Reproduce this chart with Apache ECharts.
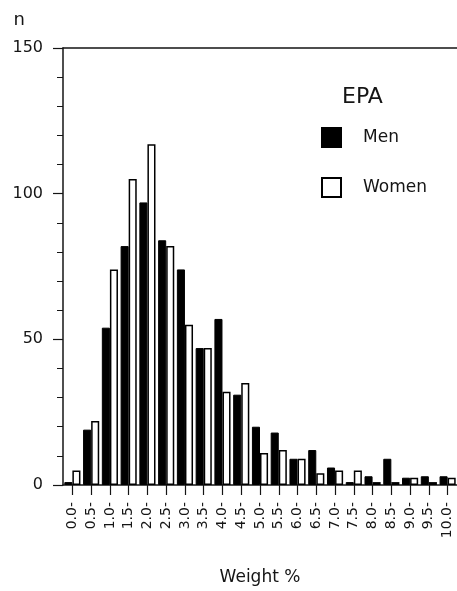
<!DOCTYPE html>
<html>
<head>
<meta charset="utf-8">
<script src="https://cdn.jsdelivr.net/npm/echarts@6/dist/echarts.min.js"></script>
<style>
html,body{margin:0;padding:0;background:#fff;}
#chart{width:457px;height:591px;}
</style>
</head>
<body>
<div id="chart"></div>
<script>
const categories = ['0.0-','0.5-','1.0-','1.5-','2.0-','2.5-','3.0-','3.5-','4.0-','4.5-','5.0-','5.5-','6.0-','6.5-','7.0-','7.5-','8.0-','8.5-','9.0-','9.5-','10.0-'];
const men   = [1, 19, 54, 82, 97, 84, 74, 47, 57, 31, 20, 18, 9, 12, 6, 1, 3, 9, 2.5, 3, 3];
const women = [5, 22, 74, 105, 117, 82, 55, 47, 32, 35, 11, 12, 9, 4, 5, 5, 1, 1, 2.5, 1, 2.5];
const yTicks = [0, 50, 100, 150];

const font = 'DejaVu Sans, Verdana, sans-serif';
const ink = '#151515';
const chart = echarts.init(document.getElementById('chart'), null, {renderer: 'canvas'});
chart.setOption({
  animation: false,
  backgroundColor: '#fff',
  textStyle: {fontFamily: font, color: ink},
  title: {
    text: 'EPA', left: 337, top: 81,
    textStyle: {fontFamily: font, fontSize: 22, fontWeight: 'normal', color: ink}
  },
  legend: {
    orient: 'vertical', left: 316, top: 122,
    itemWidth: 19, itemHeight: 19, itemGap: 29,
    icon: 'rect',
    textStyle: {fontFamily: font, fontSize: 17, color: ink, padding: [0, 0, 0, 17]},
    data: ['Men', 'Women']
  },
  grid: {left: 63, right: 0, top: 48, bottom: 105},
  xAxis: [{
    type: 'category',
    data: categories,
    name: 'Weight %',
    nameLocation: 'middle',
    nameGap: 84,
    nameTextStyle: {fontFamily: font, fontSize: 17, color: ink},
    axisLine: {lineStyle: {color: ink, width: 1.5}},
    axisTick: {show: true, alignWithLabel: true, inside: false, length: 10, lineStyle: {color: ink, width: 1.2}},
    axisLabel: {rotate: 90, fontSize: 14, color: ink, margin: 17, interval: 0, fontFamily: font}
  }, {
    type: 'category',
    data: categories,
    position: 'top',
    axisLine: {show: true, lineStyle: {color: ink, width: 1.5}},
    axisTick: {show: false},
    axisLabel: {show: false}
  }],
  yAxis: {
    type: 'value',
    min: yTicks[0], max: yTicks[yTicks.length - 1], interval: 50,
    name: 'n',
    nameLocation: 'end',
    nameGap: 19,
    nameTextStyle: {fontFamily: font, fontSize: 18, color: ink, align: 'right', padding: [0, 38, 0, 0]},
    axisLine: {show: true, lineStyle: {color: ink, width: 1.5}},
    axisTick: {show: true, length: 10, lineStyle: {color: ink, width: 1.2}},
    minorTick: {show: true, splitNumber: 5, length: 6, lineStyle: {color: ink, width: 1}},
    splitLine: {show: false},
    axisLabel: {fontSize: 16, color: ink, margin: 20, fontFamily: font}
  },
  series: [{
    name: 'Men', type: 'bar', data: men,
    barGap: '0%', barCategoryGap: '14%',
    itemStyle: {color: '#000', borderColor: '#000', borderWidth: 1}
  }, {
    name: 'Women', type: 'bar', data: women,
    barGap: '0%', barCategoryGap: '14%',
    itemStyle: {color: '#fff', borderColor: '#000', borderWidth: 1.5}
  }]
});
</script>
</body>
</html>
